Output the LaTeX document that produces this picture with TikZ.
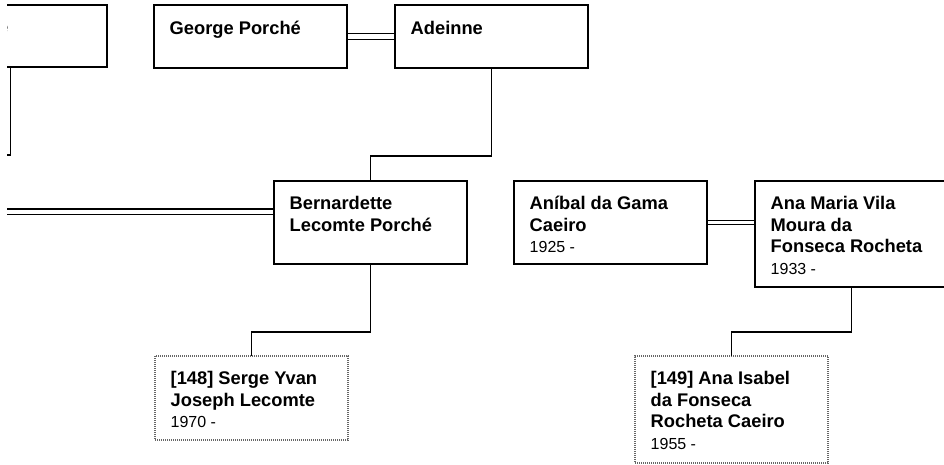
\documentclass[tikz,border=0pt]{standalone}
\usepackage{fontspec}
\setmainfont{Liberation Sans}
\usetikzlibrary{calc}
\tikzset{
  person/.style={draw=black, line width=1.3pt, minimum width=193pt, anchor=north west, inner sep=0pt, outer sep=0pt},
  childbox/.style={person, draw=black!60, dash pattern=on 1pt off 1pt},
  nm/.style={anchor=base west, inner sep=0pt, font=\bfseries\fontsize{18.3}{22}\selectfont},
  dt/.style={anchor=base west, inner sep=0pt, font=\fontsize{16}{19}\selectfont},
  link/.style={line width=1.3pt, line join=miter},
}
\newcommand\boxline[5]{\node[#1] (#2) at ($(#3.north west)+(15.5,#4)$) {#5};}
\begin{document}
\begin{tikzpicture}[x=1pt,y=-1pt]
\useasboundingbox (0,0) rectangle (944,464);
\clip (7,-3) rectangle (947,467);

% boxes
\node[person, minimum height=62pt] (tl) at (-86,5) {};
\node[person, minimum height=63pt] (george) at (154,5) {};
\node[person, minimum height=63pt] (adeinne) at (395,5) {};
\node[person, minimum height=83pt] (bern) at (274,181) {};
\node[person, minimum height=83pt] (anibal) at (514,181) {};
\node[person, minimum height=106pt] (anamaria) at (755,181) {};
\node[childbox, minimum height=84pt] (serge) at (155,356) {};
\node[childbox, minimum height=107pt] (anaisabel) at (635,356) {};

% texts
\node[nm, anchor=base east] (tl-1) at (8.5,33.5) {Lecomte};
\boxline{nm}{george-1}{george}{29}{George Porché}
\boxline{nm}{adeinne-1}{adeinne}{29}{Adeinne}
\boxline{nm}{bern-1}{bern}{28.5}{Bernardette}
\boxline{nm}{bern-2}{bern}{50}{Lecomte Porché}
\boxline{nm}{anibal-1}{anibal}{28.5}{Aníbal da Gama}
\boxline{nm}{anibal-2}{anibal}{50}{Caeiro}
\boxline{dt}{anibal-3}{anibal}{71.5}{1925 -}
\boxline{nm}{anamaria-1}{anamaria}{28.5}{Ana Maria Vila}
\boxline{nm}{anamaria-2}{anamaria}{50}{Moura da}
\boxline{nm}{anamaria-3}{anamaria}{71.5}{Fonseca Rocheta}
\boxline{dt}{anamaria-4}{anamaria}{93}{1933 -}
\boxline{nm}{serge-1}{serge}{28.5}{[148] Serge Yvan}
\boxline{nm}{serge-2}{serge}{50}{Joseph Lecomte}
\boxline{dt}{serge-3}{serge}{71.5}{1970 -}
\boxline{nm}{anaisabel-1}{anaisabel}{28.5}{[149] Ana Isabel}
\boxline{nm}{anaisabel-2}{anaisabel}{50}{da Fonseca}
\boxline{nm}{anaisabel-3}{anaisabel}{71.5}{Rocheta Caeiro}
\boxline{dt}{anaisabel-4}{anaisabel}{93}{1955 -}

% parent-child connectors
\coordinate (tlc) at (-110,155);
\draw[link] (tl.south) |- (tlc);
\draw[link] (adeinne.south) -- ++(0,88) -| (bern.north);
\draw[link] (bern.south) -- ++(0,68) -| (serge.north);
\draw[link] (anamaria.south) -- ++(0,45) -| (anaisabel.north);

% marriage double lines
\draw[link] ([yshift=3pt]george.east) -- ([yshift=3pt]adeinne.west);
\draw[link] ([yshift=-3pt]george.east) -- ([yshift=-3pt]adeinne.west);
\coordinate (am) at (anibal.east -| anamaria.west);
\draw[link] ([yshift=2.3pt]anibal.east) -- ([yshift=2.3pt]am);
\draw[link] ([yshift=-2.3pt]anibal.east) -- ([yshift=-2.3pt]am);
\coordinate (lspouse) at (-20,211.7);
\coordinate (lb) at (bern.west |- lspouse);
\draw[link] ([yshift=2.7pt]lspouse) -- ([yshift=2.7pt]lb);
\draw[link] ([yshift=-2.7pt]lspouse) -- ([yshift=-2.7pt]lb);
\end{tikzpicture}
\end{document}
